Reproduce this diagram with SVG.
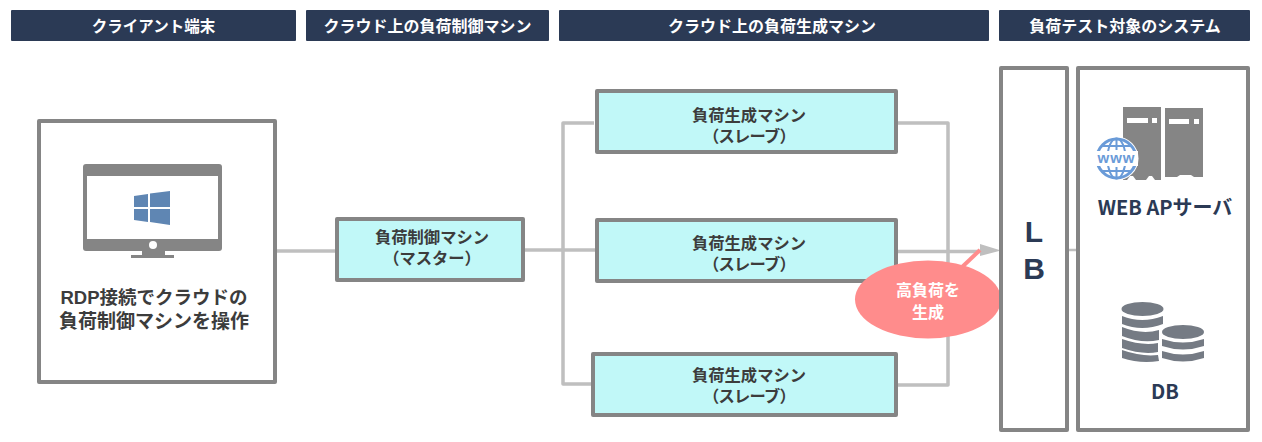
<svg xmlns="http://www.w3.org/2000/svg" width="1262" height="442" viewBox="0 0 1262 442">
<style>
text{font-family:"Noto Sans CJK JP","Liberation Sans",sans-serif;font-weight:700;text-anchor:middle}
.tight{font-family:"Liberation Sans","Noto Sans CJK JP",sans-serif}
.hb{fill:#2b3a55}
.ht{fill:#fff;font-size:16px}
.box{fill:#fff;stroke:#858585;stroke-width:4;stroke-linejoin:round}
.cy{fill:#c1f8f8;stroke:#858585;stroke-width:4;stroke-linejoin:round}
.nt{fill:#3c3c3c;font-size:16.300px}
.con{fill:none;stroke:#bfbfbf;stroke-width:3.500;stroke-linejoin:round}
.navy{fill:#2b3a55}
.ic{fill:#858585}
.db{fill:#757b84}
</style>
<rect width="1262" height="442" fill="#fff"/>
<g id="connectors">
<path class="con" d="M276 251H336"/>
<path class="con" d="M524 250H596"/>
<path class="con" d="M594 123H563V384H592"/>
<path class="con" d="M895 123H948V385H896"/>
<path class="con" d="M897 251.500H982"/>
<path d="M980 244L1001 250.500 980 256Z" fill="#bfbfbf"/>
<path d="M1068 250H1077" fill="none" stroke="#bfbfbf" stroke-width="2.500"/>
</g>
<g id="h1"><rect class="hb" x="11" y="10" width="285" height="31" rx="1"/><text class="ht" x="153.500" y="32" style="font-size:15.500px">クライアント端末</text></g>
<g id="h2"><rect class="hb" x="306" y="10" width="243" height="31" rx="1"/><text class="ht" x="427.500" y="32">クラウド上の負荷制御マシン</text></g>
<g id="h3"><rect class="hb" x="559" y="10" width="430" height="31" rx="1"/><text class="ht" x="772" y="32">クラウド上の負荷生成マシン</text></g>
<g id="h4"><rect class="hb" x="999" y="10" width="251" height="31" rx="1"/><text class="ht" x="1125" y="32">負荷テスト対象のシステム</text></g>
<g id="client">
<rect class="box" x="39" y="121" width="236" height="261"/>
<path class="ic" d="M86 164H219Q222 164 222 167V248Q222 251 219 251H86Q83 251 83 248V167Q83 164 86 164Z"/>
<rect x="87" y="176" width="131" height="63" fill="#fff"/>
<circle cx="153" cy="245" r="4" fill="#fff"/>
<path class="ic" d="M142 251H165V255H174V258H131V255H142Z"/>
<path d="M134 196L148 194V207H134ZM150 193.500L170 191V207H150ZM134 209H148V222L134 220ZM150 209H170V225L150 222Z" fill="#5f86b3"/>
<text class="tight" style="font-size:19px;fill:#3c3c3c"><tspan x="154" y="304" style="font-size:18.500px">RDP接続でクラウドの</tspan><tspan x="154" y="328">負荷制御マシンを操作</tspan></text>
</g>
<g id="master">
<rect class="cy" x="337" y="219" width="186" height="61"/>
<text class="nt tight"><tspan x="432" y="243">負荷制御マシン</tspan><tspan x="432" y="264">（マスター）</tspan></text>
</g>
<g id="slave1">
<rect class="cy" x="597" y="91" width="299" height="61"/>
<text class="nt tight"><tspan x="749" y="121">負荷生成マシン</tspan><tspan x="749" y="142" letter-spacing="-.8">（スレーブ）</tspan></text>
</g>
<g id="slave2">
<rect class="cy" x="597" y="220" width="299" height="61"/>
<text class="nt tight"><tspan x="749" y="249">負荷生成マシン</tspan><tspan x="749" y="270" letter-spacing="-.8">（スレーブ）</tspan></text>
</g>
<g id="slave3">
<rect class="cy" x="593" y="354" width="303" height="61"/>
<text class="nt tight"><tspan x="749" y="381">負荷生成マシン</tspan><tspan x="749" y="402" letter-spacing="-.8">（スレーブ）</tspan></text>
</g>
<g id="callout">
<path d="M960 269L980 250" fill="none" stroke="#ff8c8c" stroke-width="4"/>
<ellipse cx="928" cy="299.500" rx="73" ry="39" fill="#ff8c8c"/>
<text class="tight" style="font-size:16px;fill:#fff"><tspan x="928" y="296">高負荷を</tspan><tspan x="928" y="318">生成</tspan></text>
</g>
<g id="lb">
<rect class="box" x="1001" y="68" width="66" height="362"/>
<text class="navy" x="1034" y="242" style="font-size:30px;font-family:'Liberation Sans',sans-serif">L</text>
<text class="navy" x="1034" y="279" style="font-size:30px;font-family:'Liberation Sans',sans-serif">B</text>
</g>
<g id="system">
<rect class="box" x="1078" y="68" width="170" height="362"/>
<path class="ic" d="M1123 107H1161V180H1155L1152 176H1149L1146 180H1136L1133 176H1130L1127 180H1123Z"/>
<path class="ic" d="M1165 108H1203V177H1194L1191 175H1180L1177 177H1165Z"/>
<path d="M1127 118H1148V123H1127ZM1152 118H1157V123H1152ZM1169 119H1189V124H1169ZM1194 119H1199V124H1194Z" fill="#fff"/>
<circle cx="1116.500" cy="158.500" r="22" fill="#fff"/>
<g fill="none" stroke="#6a9bd8" stroke-width="2">
<circle cx="1116.500" cy="158.500" r="19.500" stroke-width="3"/>
<ellipse cx="1116.500" cy="158.500" rx="9" ry="20"/>
<path d="M1116.500 138V150M1116.500 167V179M1101 146H1132M1101 171H1132"/>
</g>
<rect x="1095" y="151" width="43" height="15" fill="#fff"/>
<text x="1116.500" y="163" style="font-size:15px;fill:#6a9bd8;font-family:'Liberation Sans',sans-serif;letter-spacing:1px">www</text>
<text class="navy" x="1165" y="215" style="font-size:20px">WEB APサーバ</text>
<g class="db">
<ellipse cx="1142.500" cy="309" rx="21" ry="7"/>
<path d="M1122 316Q1142 324 1163 316V324Q1142 332 1122 324Z"/>
<path d="M1122 327Q1142 335 1159 330V340Q1142 344 1122 336Z"/>
<path d="M1122 339Q1142 346 1158 343V352Q1142 355 1122 348Z"/>
<path d="M1122 350Q1142 357 1158 355L1159 361Q1140 364 1122 358Z"/>
<ellipse cx="1183" cy="332" rx="21" ry="7"/>
<path d="M1162 339Q1183 346 1204 339V346Q1183 353 1162 346Z"/>
<path d="M1162 351Q1183 358 1204 351V358Q1183 365 1162 358Z"/>
</g>
<text class="navy" x="1165" y="399" style="font-size:20px">DB</text>
</g>
</svg>
